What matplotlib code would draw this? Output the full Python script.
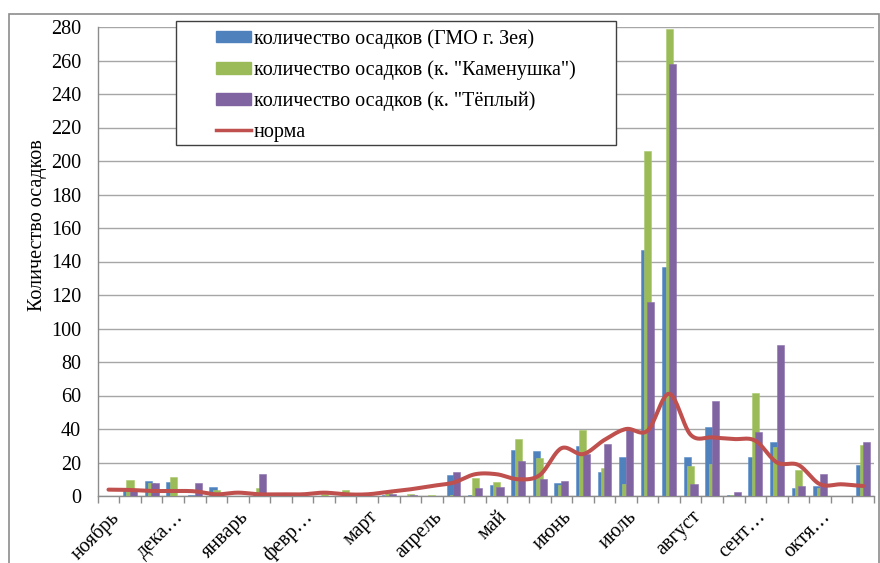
import numpy as np
import matplotlib
matplotlib.use("Agg")
import matplotlib.pyplot as plt
from matplotlib.patches import Rectangle
from matplotlib.lines import Line2D
from matplotlib.transforms import offset_copy

plt.rcParams["font.family"] = ["Liberation Serif", "DejaVu Serif"]

# декады с ноября по октябрь (36 значений)
month_labels = ["ноябрь", "дека…", "январь", "февр…", "март", "апрель",
                "май", "июнь", "июль", "август", "сент…", "октя…"]

zeya = [0, 4.5, 9, 8.5, 0.5, 5.5, 0, 2.5, 0, 0, 0, 0,
        0, 0.8, 0, 0, 12.5, 0.8, 6.5, 27.5, 27, 8, 30, 14.5,
        23.5, 147, 137, 23.5, 41, 0.5, 23, 32, 5, 6, 0, 18.5]
kamenushka = [0, 9.6, 8, 11.5, 0, 3.5, 0, 4.5, 0, 0, 1, 3.5,
              0, 1.6, 1.2, 0.8, 0.8, 11, 8.5, 34, 22.5, 6.5, 39.5, 16.5,
              7, 206, 279, 18, 19, 0.3, 61.5, 29, 15.5, 5, 0, 30.5]
teply = [0, 3.6, 7.5, 0, 7.5, 0, 0, 13, 0, 0, 0, 0,
         0, 1, 0.8, 0, 14.5, 5, 5.5, 21, 10.3, 9, 25, 31,
         40, 116, 258, 7, 56.5, 2.4, 38.5, 90, 6, 13, 0, 32]
norma = [3.8, 3.6, 3, 3, 2.8, 1, 2, 1, 1, 1, 2, 1,
         1, 2.5, 4, 6, 8, 13, 13, 10, 12.5, 28.5, 25, 33.5,
         40, 39, 61, 36.5, 35, 34, 33, 20, 18.5, 7, 7, 6]

series_names = ['количество осадков (ГМО г. Зея)',
                'количество осадков (к. "Каменушка")',
                'количество осадков (к. "Тёплый)']
norm_name = "норма"

c_blue, c_green, c_purple, c_red = "#4F81BD", "#9BBB59", "#8064A2", "#C0504D"
fs = 14.5


def smooth(y, n=24):
    # сглаживание как у "сглаженной линии" Excel (Catmull-Rom)
    y = np.asarray(y, float)
    p = np.concatenate([[y[0]], y, [y[-1]]])
    xs, ys = [], []
    for i in range(len(y) - 1):
        p0, p1, p2, p3 = p[i], p[i + 1], p[i + 2], p[i + 3]
        t = np.linspace(0, 1, n, endpoint=False)
        ys.append(0.5 * ((2 * p1) + (-p0 + p2) * t
                         + (2 * p0 - 5 * p1 + 4 * p2 - p3) * t ** 2
                         + (-p0 + 3 * p1 - 3 * p2 + p3) * t ** 3))
        xs.append(i + t)
    xs.append([len(y) - 1])
    ys.append([y[-1]])
    return np.concatenate(xs), np.concatenate(ys)


W, H = 880, 563
fig = plt.figure(figsize=(W / 100, H / 100), dpi=100)

# рамка области диаграммы
fig.patches.append(Rectangle((9 / W, -0.01), 870 / W, 1 - 14 / H + 0.01,
                             transform=fig.transFigure, fill=False,
                             edgecolor="#8c8c8c", linewidth=1.2))

x0, x1, ytop, ybot = 97.7, 874, 27, 496
ax = fig.add_axes([x0 / W, 1 - ybot / H, (x1 - x0) / W, (ybot - ytop) / H])

n = len(zeya)
x = np.arange(n)
bw, step = 0.33, 0.155
ax.bar(x - step, zeya, bw, color=c_blue, edgecolor="#5b8fcc", linewidth=0.4, zorder=2)
ax.bar(x, kamenushka, bw, color=c_green, edgecolor="#a8c96a", linewidth=0.4, zorder=3)
ax.bar(x + step, teply, bw, color=c_purple, edgecolor="#8d72ae", linewidth=0.4, zorder=4)

sx, sy = smooth(norma)
ax.plot(sx, sy, color=c_red, linewidth=2.9, solid_capstyle="round", zorder=5)

ax.set_xlim(-0.5, n - 0.5)
ax.set_ylim(0, 280)
ax.set_yticks(np.arange(0, 281, 20))
ax.yaxis.grid(True, color="#a6a6a6", linewidth=1.0, zorder=0)
ax.set_axisbelow(True)
ax.tick_params(axis="y", length=0, pad=12, labelsize=fs)

ax.set_xticks(np.arange(-0.5, n, 1))
ax.set_xticklabels([])
ax.tick_params(axis="x", which="major", length=5, color="#8c8c8c", width=1)
ax.set_xticks(np.arange(0, n, 3), minor=True)
ax.set_xticklabels(month_labels, minor=True)
ax.tick_params(axis="x", which="minor", length=0, pad=6, labelsize=fs)
for lab in ax.get_xticklabels(minor=True):
    lab.set_rotation(45)
    lab.set_ha("right")
    lab.set_va("top")
    lab.set_rotation_mode("anchor")
    lab.set_transform(offset_copy(lab.get_transform(), fig=fig, x=1, y=-3, units="dots"))

for s in ["top", "right"]:
    ax.spines[s].set_visible(False)
for s in ["left", "bottom"]:
    ax.spines[s].set_color("#8c8c8c")
    ax.spines[s].set_linewidth(1.0)

ax.set_ylabel("Количество осадков", fontsize=fs)
ax.yaxis.set_label_coords(-0.065, 0.578)

# легенда в рамке
fig.patches.append(Rectangle((176 / W, 1 - 145 / H), 440 / W, 124 / H,
                             transform=fig.transFigure, facecolor="white",
                             edgecolor="#404040", linewidth=1.0, zorder=10))
handles = [Rectangle((0, 0), 1, 1, color=c_blue),
           Rectangle((0, 0), 1, 1, color=c_green),
           Rectangle((0, 0), 1, 1, color=c_purple),
           Line2D([], [], color=c_red, linewidth=2.5)]
leg = fig.legend(handles, series_names + [norm_name], loc="upper left",
                 bbox_to_anchor=(216 / W, 1 - 29 / H), frameon=False,
                 fontsize=fs, handlelength=1.75, handleheight=0.5,
                 handletextpad=0.12, labelspacing=0.57, borderaxespad=0,
                 borderpad=0)
leg.set_zorder(11)

fig.savefig("out.png", dpi=100)
